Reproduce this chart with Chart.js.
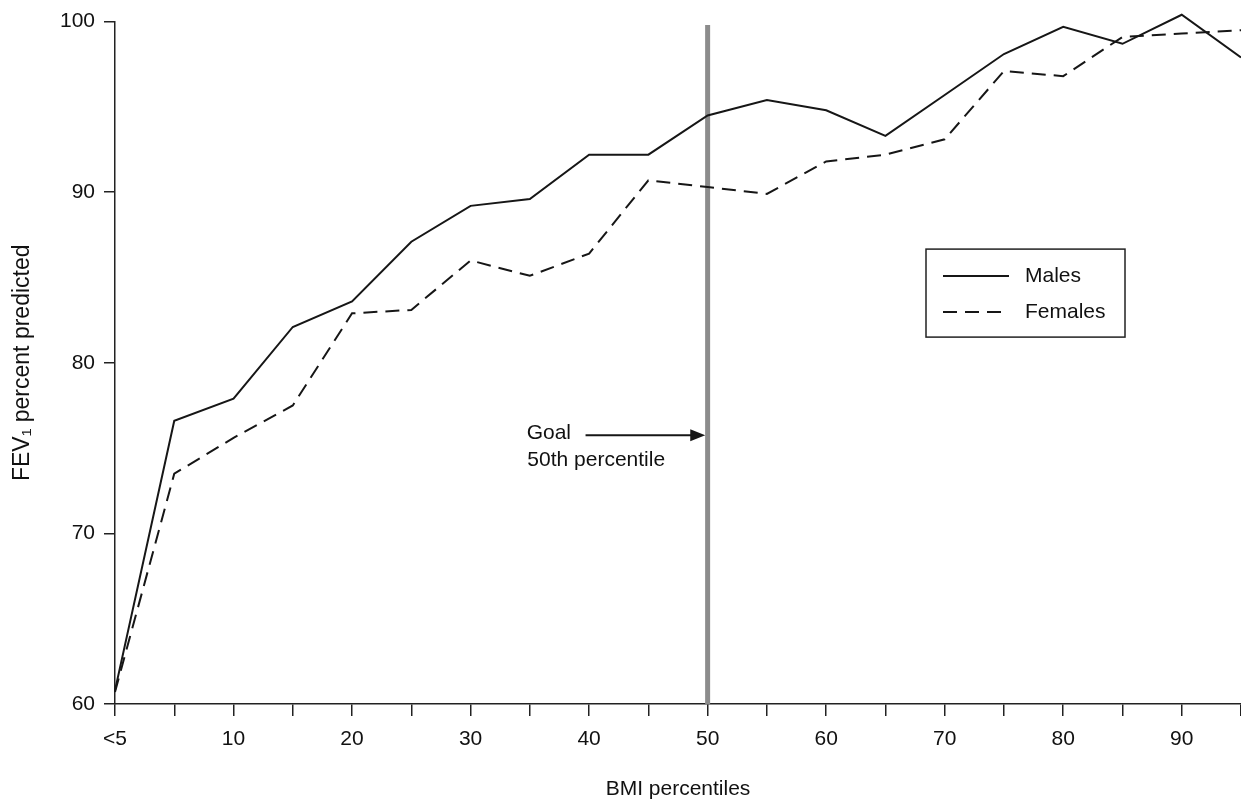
<!DOCTYPE html>
<html><head><meta charset="utf-8">
<script src="https://cdn.jsdelivr.net/npm/chart.js@4.4.1/dist/chart.umd.min.js"></script>
<style>html,body{margin:0;padding:0;background:#fff;}#wrap{width:1241px;height:802px;}</style>
</head><body><div id="wrap"><canvas id="c" width="1241" height="802"></canvas></div>
<script>
// ---- data ----
const bmiPercentiles = [0, 5, 10, 15, 20, 25, 30, 35, 40, 45, 50, 55, 60, 65, 70, 75, 80, 85, 90, 95];
const malesFEV1   = [60.8, 76.6, 77.9, 82.1, 83.6, 87.1, 89.2, 89.6, 92.2, 92.2, 94.5, 95.4, 94.8, 93.3, 95.7, 98.1, 99.7, 98.7, 100.4, 97.9];
const femalesFEV1 = [60.7, 73.5, 75.6, 77.5, 82.9, 83.1, 86.0, 85.1, 86.4, 90.7, 90.3, 89.9, 91.8, 92.2, 93.1, 97.1, 96.8, 99.1, 99.3, 99.5];
const xTickValues = [0, 5, 10, 15, 20, 25, 30, 35, 40, 45, 50, 55, 60, 65, 70, 75, 80, 85, 90, 95];
const xLabelValues = [0, 10, 20, 30, 40, 50, 60, 70, 80, 90];
const xLabelTexts  = ['<5', '10', '20', '30', '40', '50', '60', '70', '80', '90'];
const yTickValues = [60, 70, 80, 90, 100];
const seriesNames = ['Males', 'Females'];
// goal marker (in data units)
const goalX = [50, 50];
const goalY = [60, 99.8];
const goalArrowX = [39.7, 49.8];
const goalArrowY = [75.75, 75.75];
const goalTexts = ['Goal', '50th percentile'];
const goalTextX = [36.6, 40.6];
const goalTextY = [75.9, 74.3];

const FONT = '"Liberation Sans", Arial, Helvetica, sans-serif';
Chart.defaults.font.family = FONT;
Chart.defaults.color = '#111';

const ink = '#161616';
const toPts = (xs, ys) => xs.map((x, i) => ({x, y: ys[i]}));

const goalPlugin = {
  id: 'goalAndLegend',
  afterDatasetsDraw(chart) {
    const {ctx, scales: {x, y}, chartArea: ca} = chart;
    ctx.save();
    // arrow
    const x0 = x.getPixelForValue(goalArrowX[0]), x1 = x.getPixelForValue(goalArrowX[1]);
    const ay = y.getPixelForValue(goalArrowY[0]);
    ctx.strokeStyle = ink; ctx.fillStyle = ink; ctx.lineWidth = 2;
    ctx.beginPath(); ctx.moveTo(x0, ay); ctx.lineTo(x1 - 10, ay); ctx.stroke();
    ctx.beginPath(); ctx.moveTo(x1, ay); ctx.lineTo(x1 - 15, ay - 6); ctx.lineTo(x1 - 15, ay + 6); ctx.closePath(); ctx.fill();
    // texts
    ctx.font = '21px ' + FONT; ctx.textAlign = 'center'; ctx.textBaseline = 'middle'; ctx.fillStyle = '#111';
    goalTexts.forEach((t, i) => ctx.fillText(t, x.getPixelForValue(goalTextX[i]), y.getPixelForValue(goalTextY[i])));
    // legend box
    const bx = ca.right - 315, by = ca.top + 227.5, bw = 199, bh = 88;
    ctx.fillStyle = '#fff'; ctx.fillRect(bx, by, bw, bh);
    ctx.strokeStyle = '#222'; ctx.lineWidth = 1.5; ctx.setLineDash([]);
    ctx.strokeRect(bx, by, bw, bh);
    const ds = chart.data.datasets;
    [0, 1].forEach(i => {
      const ly = by + 27 + i * 36;
      ctx.strokeStyle = ds[i].borderColor; ctx.lineWidth = 2;
      ctx.setLineDash(ds[i].borderDash || []);
      ctx.beginPath(); ctx.moveTo(bx + 17, ly); ctx.lineTo(bx + 83, ly); ctx.stroke();
      ctx.setLineDash([]);
      ctx.fillStyle = '#111'; ctx.textAlign = 'left'; ctx.textBaseline = 'middle';
      ctx.fillText(ds[i].label, bx + 99, ly);
    });
    ctx.restore();
  }
};

new Chart(document.getElementById('c'), {
  type: 'line',
  data: {
    datasets: [
      {label: seriesNames[0], data: toPts(bmiPercentiles, malesFEV1), borderColor: ink, borderWidth: 2, pointRadius: 0, tension: 0, clip: false},
      {label: seriesNames[1], data: toPts(bmiPercentiles, femalesFEV1), borderColor: ink, borderWidth: 2, borderDash: [14, 8], pointRadius: 0, tension: 0, clip: false},
      {label: 'Goal', data: toPts(goalX, goalY), borderColor: '#8c8c8c', borderWidth: 5, pointRadius: 0, clip: false}
    ]
  },
  options: {
    responsive: false, animation: false, devicePixelRatio: 1,
    layout: {padding: {top: 21, right: 0, left: 0, bottom: 0}},
    plugins: {legend: {display: false}, tooltip: {enabled: false}},
    scales: {
      x: {
        type: 'linear', min: 0, max: 95,
        afterBuildTicks: s => { s.ticks = xTickValues.map(v => ({value: v})); },
        afterFit: s => { s.height = 98; s.paddingRight = 0; s.paddingLeft = 0; },
        ticks: {
          autoSkip: false, maxRotation: 0, padding: 11, font: {size: 21}, color: '#111',
          callback: v => { const i = xLabelValues.indexOf(v); return i >= 0 ? xLabelTexts[i] : ''; }
        },
        grid: {drawOnChartArea: false, drawTicks: true, tickLength: 12, color: '#222', lineWidth: 1.5},
        border: {display: true, color: '#222', width: 1.5},
        title: {display: true, text: 'BMI percentiles', font: {size: 21}, color: '#111', padding: {top: 0, bottom: 0}}
      },
      y: {
        min: 60, max: 100,
        afterBuildTicks: s => { s.ticks = yTickValues.map(v => ({value: v})); },
        afterFit: s => { s.width = 115; },
        ticks: {padding: 9, font: {size: 21}, color: '#111'},
        grid: {drawOnChartArea: false, drawTicks: true, tickLength: 11, color: '#222', lineWidth: 1.5},
        border: {display: true, color: '#222', width: 1.5},
        title: {display: true, text: 'FEV\u2081 percent predicted', font: {size: 23}, color: '#111', padding: {top: 9, bottom: 0}}
      }
    }
  },
  plugins: [goalPlugin]
});
</script></body></html>
